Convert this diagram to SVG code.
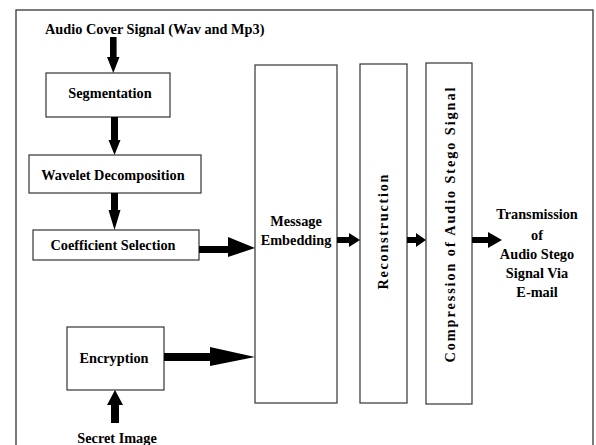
<svg xmlns="http://www.w3.org/2000/svg" width="596" height="445" viewBox="0 0 596 445">
  <style>
    .box { fill: #ffffff; stroke: #333333; stroke-width: 1.2; }
    .frame { fill: none; stroke: #444444; stroke-width: 1.4; }
    .lbl { font-family: "Liberation Serif", "Times New Roman", serif; font-weight: bold; font-size: 14.3px; fill: #000000; }
    .mid { text-anchor: middle; }
    .arrow { fill: #000000; stroke: none; }
  </style>

  <rect x="0" y="0" width="596" height="445" fill="#ffffff"/>

  <!-- outer frame -->
  <rect class="frame" x="16" y="10" width="577" height="450"/>

  <!-- input label -->
  <text class="lbl" x="45" y="34">Audio Cover Signal (Wav and Mp3)</text>

  <g id="segmentation">
    <rect class="box" x="46" y="73" width="124" height="44"/>
    <text class="lbl mid" x="110" y="98">Segmentation</text>
  </g>

  <g id="wavelet-decomposition">
    <rect class="box" x="29" y="155" width="172" height="38"/>
    <text class="lbl mid" x="113" y="180">Wavelet Decomposition</text>
  </g>

  <g id="coefficient-selection">
    <rect class="box" x="33" y="230" width="166" height="30"/>
    <text class="lbl mid" x="113" y="250">Coefficient Selection</text>
  </g>

  <g id="encryption">
    <rect class="box" x="67" y="327" width="97" height="63"/>
    <text class="lbl mid" x="114" y="363">Encryption</text>
  </g>

  <g id="message-embedding">
    <rect class="box" x="255" y="65" width="82" height="338"/>
    <text class="lbl mid" x="296" y="226">Message</text>
    <text class="lbl mid" x="296" y="245">Embedding</text>
  </g>

  <g id="reconstruction">
    <rect class="box" x="360" y="64" width="47" height="339"/>
    <text class="lbl mid" transform="translate(388,232) rotate(-90)" x="0" y="0" textLength="115" lengthAdjust="spacing">Reconstruction</text>
  </g>

  <g id="compression">
    <rect class="box" x="426" y="63" width="46" height="341"/>
    <text class="lbl mid" transform="translate(455,225) rotate(-90)" x="0" y="0" textLength="275" lengthAdjust="spacing">Compression of Audio Stego Signal</text>
  </g>

  <g id="transmission">
    <text class="lbl mid" x="537" y="219">Transmission</text>
    <text class="lbl mid" x="537" y="240">of</text>
    <text class="lbl mid" x="537" y="259">Audio Stego</text>
    <text class="lbl mid" x="537" y="278">Signal Via</text>
    <text class="lbl mid" x="537" y="297">E-mail</text>
  </g>

  <!-- secret image label -->
  <text class="lbl mid" x="117" y="443">Secret Image</text>

  <g id="connectors">
    <!-- input to segmentation -->
    <polygon class="arrow" points="110,37 116.6,37 116.6,57 119.5,57 113.3,73 107,57 110,57"/>
    <!-- segmentation to wavelet -->
    <polygon class="arrow" points="111,117 118,117 118,140 120.5,140 114.5,155 108.5,140 111,140"/>
    <!-- wavelet to coefficient -->
    <polygon class="arrow" points="111,193 118,193 118,210 120.5,210 114.5,230 108.5,210 111,210"/>
    <!-- coefficient to embedding -->
    <polygon class="arrow" points="199,246 228,246 228,237 255,248 228,257 228,253 199,253"/>
    <!-- encryption to embedding -->
    <polygon class="arrow" points="164,353 210,353 210,347 255,357 210,366 210,361 164,361"/>
    <!-- secret image to encryption -->
    <polygon class="arrow" points="111,423 119,423 119,405 123,405 115,390 107,405 111,405"/>
    <!-- embedding to reconstruction -->
    <polygon class="arrow" points="337,237 349,237 349,233 360,240 349,247 349,243 337,243"/>
    <!-- reconstruction to compression -->
    <polygon class="arrow" points="407,237 416,237 416,233 426,240 416,247 416,243 407,243"/>
    <!-- compression to transmission -->
    <polygon class="arrow" points="472,237 488,237 488,232 502,240 488,248 488,243 472,243"/>
  </g>
</svg>
